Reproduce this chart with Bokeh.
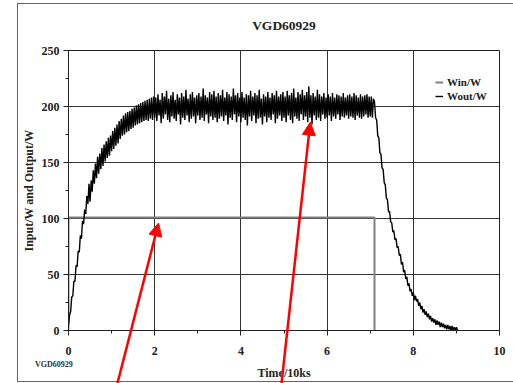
from bokeh.plotting import figure
from bokeh.models import Range1d, Arrow, NormalHead, Legend, LegendItem, FixedTicker, Div
from bokeh.layouts import column
from bokeh.embed import file_html
from bokeh.resources import INLINE

title_text = "VGD60929"
x_label = "Time/10ks"
y_label = "Input/W and Output/W"
footnote = "VGD60929"

# Input power (step profile)
win_t = [0.0, 0.0, 7.1, 7.1]
win_w = [0.0, 101.0, 101.0, 0.0]

# Output power, sampled every t_step (Time/10ks)
t_step = 0.025
wout_w = [
    # rise 0.0 - 1.975
    5, 14, 17, 30, 31, 44, 44, 58, 57, 71,
    70, 85, 82, 98, 95, 108, 104, 120, 113, 131,
    115, 134, 124, 143, 131, 149, 136, 155, 140, 158,
    144, 163, 147, 166, 151, 169, 154, 172, 156, 174,
    160, 178, 162, 181, 165, 184, 167, 187, 171, 189,
    174, 192, 175, 194, 177, 195, 178, 196, 180, 198,
    181, 199, 183, 201, 184, 202, 185, 203, 186, 204,
    187, 205, 188, 206, 187, 207, 189, 208, 188, 209,
    # plateau 2.0 - 7.075
    190, 208, 187, 211, 192, 206, 185, 212, 189, 209, 193, 214, 188, 207, 186, 210, 191, 213, 189, 206,
    187, 211, 193, 208, 184, 212, 190, 209, 188, 215, 192, 207, 186, 211, 189, 213, 191, 208, 185, 210,
    192, 212, 188, 209, 190, 216, 187, 210, 193, 208, 185, 213, 191, 211, 188, 214, 190, 209, 186, 212,
    189, 210, 191, 215, 187, 208, 192, 213, 184, 211, 190, 209, 188, 216, 193, 210, 186, 212, 191, 208,
    186, 213, 190, 208, 188, 211, 183, 210, 191, 214, 187, 209, 192, 212, 185, 210, 189, 215, 190, 207,
    184, 211, 191, 209, 186, 213, 190, 208, 188, 212, 193, 210, 185, 214, 189, 209, 192, 211, 187, 213,
    190, 209, 186, 214, 192, 210, 188, 212, 185, 216, 191, 208, 189, 213, 187, 211, 193, 215, 188, 210,
    191, 213, 186, 218, 190, 210, 184, 212, 192, 209, 188, 215, 190, 211, 187, 209, 193, 212, 189, 208,
    190, 211, 192, 209, 187, 212, 191, 208, 189, 211, 193, 210, 188, 209, 191, 212, 190, 208, 192, 210,
    189, 211, 191, 209, 190, 212, 188, 210, 192, 208, 190, 211, 189, 209, 191, 210, 193, 211, 190, 209,
    191, 209, 190, 207,
    # fall 7.1 - 9.05
    204, 190, 188, 174, 172, 159, 157, 145, 144, 132,
    130, 118, 117, 106, 106, 97, 96, 88, 89, 81,
    82, 74, 75, 67, 68, 59, 61, 52, 54, 46,
    48, 40, 42, 35, 37, 31, 34, 27, 31, 26,
    28, 22, 25, 19, 22, 16, 19, 14, 17, 12,
    15, 10, 13, 8, 11, 7, 10, 5, 9, 5,
    8, 3, 7, 3, 6, 2, 5, 1, 5, 1,
    4, 0, 4, 0, 3, 0, 3, 0, 0,
]
wout_t = [i * t_step for i in range(len(wout_w))]

x_ticks = [0, 2, 4, 6, 8, 10]
x_minor = [1, 3, 5, 7, 9]
y_ticks = [0, 50, 100, 150, 200, 250]
y_minor = [25, 75, 125, 175, 225]

# Red annotation arrows (start -> tip), data coordinates
arrow_start_x = [1.13, 4.94]
arrow_start_y = [-48, -48]
arrow_end_x = [2.09, 5.61]
arrow_end_y = [96, 186]

FONT = "Liberation Serif"
W, H = 513, 383
FL, FR, FT, FB = 68, 499, 50, 330   # plot frame in page pixels
X0, X1, Y0, Y1 = 0, 10, 0, 250

p = figure(width=W, height=H, output_backend="svg", toolbar_location=None,
           x_range=Range1d(X0, X1), y_range=Range1d(Y0, Y1),
           min_border_left=FL, min_border_right=W - FR,
           min_border_top=FT, min_border_bottom=H - FB)
p.background_fill_color = "white"
p.border_fill_color = "white"
p.outline_line_color = "#222222"

p.title.text = title_text
p.title.align = "center"
p.title.vertical_align = "middle"
p.title.text_font = FONT
p.title.text_font_style = "bold"
p.title.text_font_size = "13.5px"
p.title.text_color = "#222222"
p.title.standoff = 33

for ax in (p.xaxis[0], p.yaxis[0]):
    ax.axis_line_color = "#222222"
    ax.major_tick_line_color = "#222222"
    ax.minor_tick_line_color = "#222222"
    ax.major_label_text_font = FONT
    ax.major_label_text_font_style = "bold"
    ax.major_label_text_font_size = "12px"
    ax.major_label_text_color = "#222222"
    ax.axis_label_text_font = FONT
    ax.axis_label_text_font_style = "bold"
    ax.axis_label_text_font_size = "12px"
    ax.axis_label_text_color = "#222222"
    ax.major_tick_out = 5
    ax.major_tick_in = 0
    ax.minor_tick_out = 3
    ax.minor_tick_in = 0

p.xaxis.ticker = FixedTicker(ticks=x_ticks, minor_ticks=x_minor)
p.yaxis.ticker = FixedTicker(ticks=y_ticks, minor_ticks=y_minor)
p.xaxis.axis_label = x_label
p.yaxis.axis_label = y_label
p.xaxis.major_label_standoff = 11
p.xaxis.axis_label_standoff = 8
p.yaxis.major_label_standoff = 4
p.yaxis.axis_label_standoff = 3

p.xgrid.ticker = FixedTicker(ticks=x_ticks)
p.ygrid.ticker = FixedTicker(ticks=y_ticks)
for g in (p.xgrid[0], p.ygrid[0]):
    g.grid_line_color = "#333333"
    g.grid_line_width = 1

r_win = p.line(win_t, win_w, line_color="#808080", line_width=2)
r_wout = p.line(wout_t, wout_w, line_color="black", line_width=1.4)

legend = Legend(items=[LegendItem(label="Win/W", renderers=[r_win]),
                       LegendItem(label="Wout/W", renderers=[r_wout])],
                location=(365, 226), background_fill_alpha=0, border_line_alpha=0,
                label_text_font=FONT, label_text_font_style="bold",
                label_text_font_size="11px", label_text_color="#222222",
                glyph_width=8, glyph_height=12, label_height=12,
                spacing=2, padding=2, margin=0, label_standoff=4)
p.add_layout(legend)

# Page box and the small footnote under the x axis (HTML overlay)
box_html = (
    f'<div style="position:absolute;left:17px;top:3px;width:{W - 17}px;height:379px;'
    'border-left:1px solid #666;border-top:1px solid #666;border-bottom:1px solid #666;'
    'box-sizing:border-box;"></div>'
    f'<div style="position:absolute;left:35px;top:359px;font-family:\'{FONT}\';'
    f'font-weight:bold;font-size:8px;color:#333;white-space:nowrap;">{footnote}</div>'
)
deco = Div(text=box_html, width=W, height=H, margin=(-H, 0, 0, 0),
           styles={"position": "relative"})

# Transparent overlay with the same data mapping whose frame runs to the page
# bottom, so the red arrows can cross below the x axis.
sy = (FB - FT) / (Y1 - Y0)
ov = figure(width=W, height=H, output_backend="svg", toolbar_location=None,
            x_range=Range1d(X0, X1),
            y_range=Range1d(Y0 - (H - FB) / sy, Y0 + FB / sy),
            min_border_left=FL, min_border_right=W - FR,
            min_border_top=0, min_border_bottom=0,
            x_axis_location=None, y_axis_location=None)
ov.grid.visible = False
ov.outline_line_color = None
ov.background_fill_alpha = 0
ov.border_fill_alpha = 0

for ax_, ay_, bx_, by_ in zip(arrow_start_x, arrow_start_y, arrow_end_x, arrow_end_y):
    ov.add_layout(Arrow(x_start=ax_, y_start=ay_, x_end=bx_, y_end=by_,
                        line_color="red", line_width=2.5,
                        end=NormalHead(size=13, fill_color="red", line_color="red")))

ov.margin = (-H, 0, 0, 0)
layout = column(p, deco, ov, spacing=0)

open("out.html", "w").write(file_html(layout, INLINE))
